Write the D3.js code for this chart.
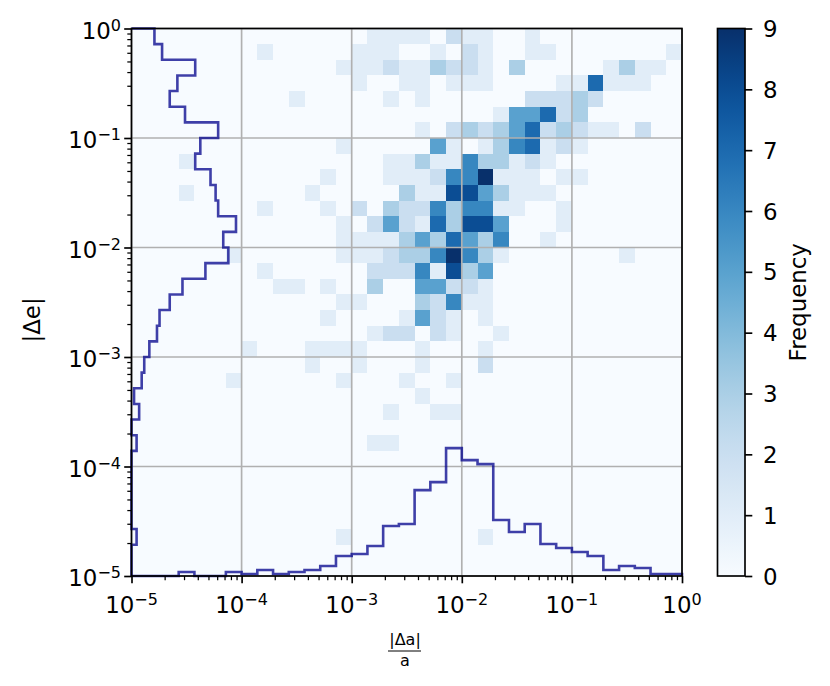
<!DOCTYPE html>
<html>
<head>
<meta charset="utf-8">
<script src="https://cdn.jsdelivr.net/npm/d3@7"></script>
<style>
body { margin: 0; background: #fff; }
text { font-family: "DejaVu Sans", sans-serif; fill: #000; }
</style>
</head>
<body>
<div id="chart"></div>
<script>
// 2d histogram counts, 35 x 35 log bins (7 per decade, 1e-5 .. 1e0)
// rows go from top (|Δe| near 1) to bottom (|Δe| near 1e-5)
var counts = [
  [0,0,0,0,0, 0,0,0,0,0, 0,0,0,0,0, 1,1,1,1,0, 2,1,1,0,0, 1,0,0,0,0, 0,0,0,0,0],
  [0,0,0,0,0, 0,0,0,1,0, 0,0,0,0,1, 1,1,0,0,1, 0,2,1,0,0, 1,1,0,0,0, 0,0,0,0,1],
  [0,0,0,0,0, 0,0,0,0,0, 0,0,0,1,1, 1,2,1,1,3, 2,2,1,0,3, 0,0,0,0,0, 1,3,1,1,0],
  [0,0,0,0,0, 0,0,0,0,0, 0,0,0,0,1, 0,0,1,1,0, 1,1,1,0,0, 0,0,1,1,7, 1,1,1,0,0],
  [0,0,0,0,0, 0,0,0,0,0, 1,0,0,0,0, 0,1,0,1,0, 0,0,0,0,0, 2,2,2,3,2, 0,0,0,0,0],
  [0,0,0,0,0, 0,0,0,0,0, 0,0,0,0,0, 0,0,0,0,0, 0,0,0,1,5, 5,7,2,3,0, 0,0,0,0,0],
  [0,0,0,0,0, 0,0,0,0,0, 0,0,0,0,0, 0,0,0,1,0, 2,3,2,3,5, 7,2,3,2,1, 1,0,2,0,0],
  [0,0,0,0,0, 0,0,0,0,0, 0,0,0,1,0, 0,0,0,0,5, 1,0,1,3,6, 7,1,2,1,0, 0,0,0,0,0],
  [0,0,0,1,0, 0,0,0,0,0, 0,0,0,0,0, 0,1,1,3,1, 1,6,3,3,1, 2,1,0,0,0, 0,0,0,0,0],
  [0,0,0,0,0, 0,0,0,0,0, 0,0,1,0,0, 0,1,1,1,2, 6,6,9,1,1, 1,0,1,1,0, 0,0,0,0,0],
  [0,0,0,1,0, 0,0,0,0,0, 0,1,0,0,0, 0,0,3,1,1, 8,8,5,3,1, 1,1,0,0,0, 0,0,0,0,0],
  [0,0,0,0,0, 0,0,0,1,0, 0,0,1,0,2, 0,3,2,2,6, 3,6,6,1,1, 0,0,1,0,0, 0,0,0,0,0],
  [0,0,0,0,0, 0,0,0,0,0, 0,0,0,1,0, 2,5,2,1,7, 3,8,8,5,0, 0,0,1,0,0, 0,0,0,0,0],
  [0,0,0,0,0, 0,0,0,0,0, 0,0,0,1,1, 1,1,3,5,3, 7,5,3,6,0, 0,1,0,0,0, 0,0,0,0,0],
  [0,0,0,0,0, 0,1,0,0,0, 0,0,0,1,1, 1,2,3,3,6, 9,6,3,1,0, 0,0,0,0,0, 0,1,0,0,0],
  [0,0,0,0,0, 0,0,0,1,0, 0,0,0,0,0, 2,2,2,6,1, 8,3,5,0,0, 0,0,0,0,0, 0,0,0,0,0],
  [0,0,0,0,0, 0,0,0,0,1, 1,0,1,0,0, 3,0,0,5,5, 2,2,1,0,0, 0,0,0,0,0, 0,0,0,0,0],
  [0,0,0,0,0, 0,0,0,0,0, 0,0,0,1,1, 0,0,0,3,2, 6,1,1,0,0, 0,0,0,0,0, 0,0,0,0,0],
  [0,0,0,0,0, 0,0,0,0,0, 0,0,1,0,0, 0,0,1,5,2, 1,0,1,0,0, 0,0,0,0,0, 0,0,0,0,0],
  [0,0,0,0,0, 0,0,0,0,0, 0,0,0,0,0, 1,2,2,0,2, 1,0,0,1,0, 0,0,0,0,0, 0,0,0,0,0],
  [0,0,0,0,0, 0,0,1,0,0, 0,1,1,1,1, 0,0,0,1,0, 0,0,1,0,0, 0,0,0,0,0, 0,0,0,0,0],
  [0,0,0,0,0, 0,0,0,0,0, 0,1,0,0,1, 0,0,0,1,0, 0,0,2,0,0, 0,0,0,0,0, 0,0,0,0,0],
  [0,0,0,0,0, 0,1,0,0,0, 0,0,0,1,0, 0,0,1,0,0, 1,0,0,0,0, 0,0,0,0,0, 0,0,0,0,0],
  [0,0,0,0,0, 0,0,0,0,0, 0,0,0,0,0, 0,0,0,1,0, 0,0,0,0,0, 0,0,0,0,0, 0,0,0,0,0],
  [0,0,0,0,0, 0,0,0,0,0, 0,0,0,0,0, 0,1,0,0,1, 1,0,0,0,0, 0,0,0,0,0, 0,0,0,0,0],
  [0,0,0,0,0, 0,0,0,0,0, 0,0,0,0,0, 0,0,0,0,0, 0,0,0,0,0, 0,0,0,0,0, 0,0,0,0,0],
  [0,0,0,0,0, 0,0,0,0,0, 0,0,0,0,0, 1,1,0,0,0, 0,0,0,0,0, 0,0,0,0,0, 0,0,0,0,0],
  [0,0,0,0,0, 0,0,0,0,0, 0,0,0,0,0, 0,0,0,0,0, 0,0,0,0,0, 0,0,0,0,0, 0,0,0,0,0],
  [0,0,0,0,0, 0,0,0,0,0, 0,0,0,0,0, 0,0,0,0,0, 0,0,0,0,0, 0,0,0,0,0, 0,0,0,0,0],
  [0,0,0,0,0, 0,0,0,0,0, 0,0,0,0,0, 0,0,0,0,0, 0,0,0,0,0, 0,0,0,0,0, 0,0,0,0,0],
  [0,0,0,0,0, 0,0,0,0,0, 0,0,0,0,0, 0,0,0,0,0, 0,0,0,0,0, 0,0,0,0,0, 0,0,0,0,0],
  [0,0,0,0,0, 0,0,0,0,0, 0,0,0,0,0, 0,0,0,0,0, 0,0,0,0,0, 0,0,0,0,0, 0,0,0,0,0],
  [0,0,0,0,0, 0,0,0,0,0, 0,0,0,1,0, 0,0,0,0,0, 0,0,1,0,0, 0,0,0,0,0, 0,0,0,0,0],
  [0,0,0,0,0, 0,0,0,0,0, 0,0,0,0,0, 0,0,0,0,0, 0,0,0,0,0, 0,0,0,0,0, 0,0,0,0,0],
  [0,0,0,0,0, 0,0,0,0,0, 0,0,0,0,0, 0,0,0,0,0, 0,0,0,0,0, 0,0,0,0,0, 0,0,0,0,0]
];

// marginal step histograms, same bins
var aHist = [0,0,0,2,0,0,2,1,3,1,2,3,5,10,11,15,25,26,43,47,64,58,56,28,22,26,16,14,12,10,3,5,4,1,1]; // left to right
var eHist = [9,12,25,18,15,21,34,27,25,31,33,34,41,36,38,29,20,15,11,10,7,5,4,1,3,0,2,0,0,0,0,0,2,0,0]; // top to bottom

var decades = [-5, -4, -3, -2, -1, 0];
var cbarTicks = [0, 1, 2, 3, 4, 5, 6, 7, 8, 9];

var svgWidth = 830;
var svgHeight = 686;
var plot = { left: 131.5, right: 682, top: 28.5, bottom: 576 };
var cbar = { left: 717.5, right: 745 };
var fontSize = 22.9;
var supSize = 16;

var nBins = 35;
var edges = d3.range(nBins + 1).map(n => Math.pow(10, -5 + n / 7));

var svg = d3.select("#chart").append("svg")
  .attr("width", svgWidth)
  .attr("height", svgHeight);

var x = d3.scaleLog().domain([1e-5, 1]).range([plot.left, plot.right]);
var y = d3.scaleLog().domain([1e-5, 1]).range([plot.bottom, plot.top]);
var color = d3.scaleSequential(d3.interpolateBlues).domain([0, 9]);

// marginal scales (counts)
var eScale = d3.scaleLinear().domain([0, 216]).range([plot.left, plot.right]);
var aScale = d3.scaleLinear().domain([0, 274]).range([plot.bottom, plot.top]);

// cells
var cells = [];
counts.forEach(function (row, k) {
  row.forEach(function (v, i) {
    cells.push({ i: i, j: nBins - 1 - k, v: v });
  });
});

svg.append("g")
  .attr("shape-rendering", "crispEdges")
  .selectAll("rect")
  .data(cells)
  .enter()
  .append("rect")
  .attr("x", d => x(edges[d.i]))
  .attr("y", d => y(edges[d.j + 1]))
  .attr("width", d => x(edges[d.i + 1]) - x(edges[d.i]) + 0.5)
  .attr("height", d => y(edges[d.j]) - y(edges[d.j + 1]) + 0.5)
  .attr("fill", d => color(d.v));

// grid
var majors = decades.map(d => Math.pow(10, d));
var grid = svg.append("g").attr("stroke", "#b0b0b0").attr("stroke-width", 1.67);
grid.selectAll(".gx").data(majors).enter().append("line")
  .attr("x1", d => x(d)).attr("x2", d => x(d))
  .attr("y1", plot.top).attr("y2", plot.bottom);
grid.selectAll(".gy").data(majors).enter().append("line")
  .attr("y1", d => y(d)).attr("y2", d => y(d))
  .attr("x1", plot.left).attr("x2", plot.right);

// marginal step outlines
var ePts = [[eScale(0), y(edges[nBins])]];
eHist.forEach(function (v, k) {
  ePts.push([eScale(v), y(edges[nBins - k])]);
  ePts.push([eScale(v), y(edges[nBins - 1 - k])]);
});
ePts.push([eScale(0), y(edges[0])]);

var aPts = [[x(edges[0]), aScale(0)]];
aHist.forEach(function (v, i) {
  aPts.push([x(edges[i]), aScale(v)]);
  aPts.push([x(edges[i + 1]), aScale(v)]);
});
aPts.push([x(edges[nBins]), aScale(0)]);

var line = d3.line();
[ePts, aPts].forEach(function (pts) {
  svg.append("path")
    .attr("d", line(pts))
    .attr("fill", "none")
    .attr("stroke", "#00008b")
    .attr("stroke-opacity", 0.75)
    .attr("stroke-width", 2.6)
    .attr("stroke-linejoin", "miter");
});

// minor ticks
var minors = [];
decades.slice(0, 5).forEach(function (d) {
  d3.range(2, 10).forEach(m => minors.push(m * Math.pow(10, d)));
});

var xAxis = svg.append("g")
  .attr("transform", `translate(0, ${plot.bottom})`)
  .call(d3.axisBottom(x).tickValues(majors).tickSize(7.3).tickSizeOuter(0).tickFormat(""));
var xMinor = svg.append("g")
  .attr("transform", `translate(0, ${plot.bottom})`)
  .call(d3.axisBottom(x).tickValues(minors).tickSize(4.2).tickSizeOuter(0).tickFormat(""));
var yAxis = svg.append("g")
  .attr("transform", `translate(${plot.left}, 0)`)
  .call(d3.axisLeft(y).tickValues(majors).tickSize(7.3).tickSizeOuter(0).tickFormat(""));
var yMinor = svg.append("g")
  .attr("transform", `translate(${plot.left}, 0)`)
  .call(d3.axisLeft(y).tickValues(minors).tickSize(4.2).tickSizeOuter(0).tickFormat(""));

[xAxis, xMinor, yAxis, yMinor].forEach(g => g.select(".domain").remove());
[xAxis, yAxis].forEach(g => g.selectAll(".tick line").attr("stroke", "#000").attr("stroke-width", 1.67));
[xMinor, yMinor].forEach(g => g.selectAll(".tick line").attr("stroke", "#000").attr("stroke-width", 1.25));

// spines
svg.append("rect")
  .attr("x", plot.left).attr("y", plot.top)
  .attr("width", plot.right - plot.left).attr("height", plot.bottom - plot.top)
  .attr("fill", "none").attr("stroke", "#000").attr("stroke-width", 1.67);

function powLabel(sel, d) {
  sel.append("tspan").text("10");
  sel.append("tspan")
    .attr("font-size", supSize)
    .attr("dy", -8)
    .text(d < 0 ? "\u2212" + (-d) : d);
}

svg.selectAll(".xlab").data(decades).enter().append("text")
  .attr("x", d => x(Math.pow(10, d)))
  .attr("y", 613)
  .attr("text-anchor", "middle")
  .attr("font-size", fontSize)
  .each(function (d) { powLabel(d3.select(this), d); });

svg.selectAll(".ylab").data(decades).enter().append("text")
  .attr("x", 121)
  .attr("y", d => y(Math.pow(10, d)) + 10)
  .attr("text-anchor", "end")
  .attr("font-size", fontSize)
  .each(function (d) { powLabel(d3.select(this), d); });

// axis labels
svg.append("text")
  .attr("transform", "translate(40, 320) rotate(-90)")
  .attr("text-anchor", "middle")
  .attr("font-size", fontSize)
  .text("|\u0394e|");

svg.append("text")
  .attr("x", 405).attr("y", 645)
  .attr("text-anchor", "middle")
  .attr("font-size", 16)
  .text("|\u0394a|");
svg.append("line")
  .attr("x1", 388).attr("x2", 421)
  .attr("y1", 651).attr("y2", 651)
  .attr("stroke", "#000").attr("stroke-width", 1);
svg.append("text")
  .attr("x", 405).attr("y", 666)
  .attr("text-anchor", "middle")
  .attr("font-size", 16)
  .text("a");

// colorbar
var cy = d3.scaleLinear().domain([0, 9]).range([plot.bottom, plot.top]);
var grad = svg.append("defs").append("linearGradient")
  .attr("id", "cgrad")
  .attr("x1", 0).attr("y1", 1).attr("x2", 0).attr("y2", 0);
grad.selectAll("stop")
  .data(d3.range(0, 1.0001, 0.05))
  .enter()
  .append("stop")
  .attr("offset", d => d)
  .attr("stop-color", d => color(d * 9));

svg.append("rect")
  .attr("x", cbar.left).attr("y", plot.top)
  .attr("width", cbar.right - cbar.left).attr("height", plot.bottom - plot.top)
  .attr("fill", "url(#cgrad)")
  .attr("stroke", "#000").attr("stroke-width", 1.67);

var cAxis = svg.append("g")
  .attr("transform", `translate(${cbar.right}, 0)`)
  .call(d3.axisRight(cy).tickValues(cbarTicks).tickSize(7.3).tickSizeOuter(0).tickFormat(""));
cAxis.select(".domain").remove();
cAxis.selectAll(".tick line").attr("stroke", "#000").attr("stroke-width", 1.67);

svg.selectAll(".clab").data(cbarTicks).enter().append("text")
  .attr("x", 763)
  .attr("y", d => cy(d) + 8.5)
  .attr("font-size", fontSize)
  .text(d => d);

svg.append("text")
  .attr("transform", `translate(806, ${(plot.top + plot.bottom) / 2}) rotate(-90)`)
  .attr("text-anchor", "middle")
  .attr("font-size", fontSize)
  .text("Frequency");
</script>
</body>
</html>
